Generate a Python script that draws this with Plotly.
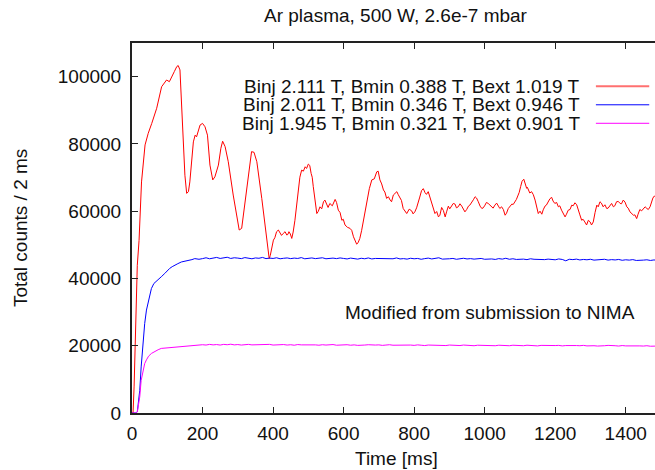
import plotly.graph_objects as go

# ---- data -------------------------------------------------------------
# Binj 2.111 T (red): (time [ms], total counts per 2 ms bin)
red_points = [
    (0, 0), (3, 0), (6, 8000), (9, 22000), (12, 33500), (15, 43900), (20, 51300), (27, 68700),
    (37, 79700), (46, 83150), (56, 86100), (70, 90600), (84, 97000), (98, 99000), (106, 98500),
    (112, 100000), (120, 101500), (127, 103000), (131, 103300), (136, 102000), (141, 91600),
    (146, 79700), (150, 70700), (155, 65300), (160, 65800), (164, 68700), (169, 74700),
    (174, 80600), (179, 82600), (183, 82100), (193, 85600), (200, 86100), (207, 85100),
    (214, 82600), (221, 73700), (229, 69300), (235, 70200), (245, 73700), (252, 78700),
    (257, 80800), (264, 79200), (273, 74700), (287, 64800), (297, 58800), (304, 54400),
    (311, 54900), (320, 61800), (330, 69800), (339, 77700), (346, 77500), (354, 74700),
    (368, 63800), (377, 56400), (382, 50900),
    (389, 45900), (392, 46800), (395, 48500), (398, 50200), (401, 51400), (405, 52100),
    (410, 53900), (415, 54400), (420, 53600), (424, 52800), (429, 53400), (434, 53900),
    (439, 52900), (442, 53100), (445, 53900), (449, 53200), (453, 51900), (457, 53800),
    (462, 57300), (467, 61900), (472, 67300), (476, 70100), (481, 72200), (486, 71900),
    (491, 73200), (495, 72700), (500, 74000), (504, 73600), (508, 71200), (511, 70100),
    (514, 67300), (519, 63800), (524, 59300), (528, 59900), (533, 61300), (538, 60700),
    (543, 62800), (547, 63300), (552, 61800), (556, 61100), (561, 62300), (568, 61600),
    (576, 63500), (580, 62600), (585, 60300), (590, 59600), (595, 57300), (599, 57600),
    (604, 55900), (611, 55200), (618, 54900), (623, 54300), (628, 52400), (632, 51400),
    (637, 50200), (641, 50600), (646, 51900), (651, 54200), (656, 57300), (661, 59800),
    (666, 63300), (673, 66700), (680, 69300), (687, 69600), (694, 71700), (698, 71900),
    (703, 69300), (708, 68100), (713, 66300), (717, 65700), (722, 63800), (727, 64300),
    (732, 63300), (736, 62800), (741, 64800), (746, 65400), (751, 65800), (755, 64900),
    (760, 64000), (764, 63200), (769, 60800), (774, 59900), (779, 59300), (786, 60600),
    (793, 60100), (797, 59200), (802, 59800), (807, 61000), (812, 63300), (816, 64200),
    (821, 66100), (826, 66700), (831, 65500), (835, 65000), (840, 65800), (845, 64100),
    (850, 61800), (854, 60600), (859, 59300), (864, 59900), (869, 58300), (873, 58800),
    (878, 61100), (883, 60200), (888, 58300), (892, 59800), (897, 61500), (901, 60700),
    (906, 61500), (911, 62300), (916, 62100), (920, 61000), (925, 61300), (930, 62200),
    (935, 61500), (939, 60600), (944, 59800), (949, 60500), (954, 61500), (958, 61800),
    (963, 62800), (968, 63400), (973, 64300), (977, 63900), (982, 62800), (987, 61500),
    (992, 60800), (996, 61000), (1001, 61800), (1005, 62600), (1010, 62300), (1015, 61800),
    (1020, 61300), (1024, 60900), (1029, 61800), (1034, 62400), (1039, 61500), (1043, 60800),
    (1048, 61300), (1053, 60500), (1058, 58800), (1062, 59400), (1067, 60800), (1072, 61300),
    (1077, 62100), (1081, 62000), (1086, 62800), (1090, 63500), (1095, 64800), (1098, 65600),
    (1102, 67300), (1106, 68900), (1111, 69500), (1115, 68000), (1119, 66800), (1121, 67100),
    (1124, 66300), (1128, 65400), (1133, 65800), (1138, 64900), (1143, 63300), (1147, 61600),
    (1152, 59300), (1157, 60000), (1162, 59100), (1166, 60400), (1171, 61500), (1175, 61800),
    (1180, 62800), (1185, 63700), (1190, 64100), (1194, 63000), (1199, 62300), (1204, 62600),
    (1209, 61300), (1213, 61600), (1218, 60300), (1223, 59300), (1228, 58300), (1232, 59100),
    (1237, 60300), (1242, 60500), (1247, 61800), (1251, 61600), (1256, 62500), (1261, 61900),
    (1266, 59800), (1270, 58900), (1275, 57300), (1279, 57600), (1284, 56800), (1289, 55900),
    (1294, 57300), (1299, 56800), (1303, 55900), (1308, 56800), (1313, 59600), (1318, 61800),
    (1322, 61300), (1327, 62800), (1331, 62400), (1336, 61300), (1341, 61900), (1346, 60800),
    (1350, 60900), (1355, 61800), (1360, 62300), (1365, 61300), (1369, 61600), (1374, 62800),
    (1379, 62900), (1384, 62300), (1388, 62200), (1393, 63300), (1398, 62700), (1403, 61300),
    (1407, 60900), (1412, 59800), (1417, 59200), (1422, 58800), (1426, 58900), (1431, 57800),
    (1435, 59100), (1440, 60500), (1445, 60100), (1450, 60800), (1455, 61300), (1460, 60800),
    (1464, 60500), (1469, 61300), (1474, 63300), (1477, 63900), (1481, 64500), (1490, 64000),
]
red_t = [p[0] for p in red_points]
red_counts = [p[1] for p in red_points]

# Blue and magenta share one time base: the rise, then 10 ms steps
rise_t = [0, 12, 15, 18, 22, 26, 31, 36, 41, 47, 55, 62, 68, 74, 83, 93, 100, 107, 114, 121,
          130, 140, 150, 159, 170, 178, 190]
steady_t = list(range(200, 1500, 10))
bm_t = rise_t + steady_t

blue_counts = [0, 0, 300, 3000, 6750, 13700, 21600, 26600, 30600, 33500, 37000, 38500, 39000,
               39500, 40500, 41500, 42300, 43000, 43500, 43950, 44400, 44900, 45100, 45400,
               45600, 45900, 45700,
               45900, 46150, 45850, 46000, 46250, 45950, 46100, 46300, 45950, 46150, 46050, 45900,
               46200, 46000, 45850, 46100, 46000, 46250, 45900, 46050, 45950, 46150, 45850, 46000,
               46100, 45900, 46050, 45950, 46200, 45850, 46000, 46100, 45900, 45950, 46150, 45850,
               46000, 46050, 45900, 46100, 45950, 45800, 46050, 45900, 45750, 46000, 45850, 46100,
               45800, 45950, 45900, 46050, 45800, 45950, 45850, 46100, 45800, 45900, 45750, 46000,
               45850, 45950, 45700, 45900, 46050, 45800, 45900, 46150, 45750, 45900, 45850, 45950,
               45700, 45850, 46000, 45800, 45900, 45750, 45850, 45950, 45700, 45850, 45800, 45650,
               45900, 45750, 46000, 45700, 45850, 45650, 45800, 45750, 45600, 45850, 45700, 45650,
               45800, 45600, 45750, 45700, 45550, 45800, 45650, 45250, 45700, 45600, 45750, 45500,
               45650, 45550, 45700, 45450, 45600, 45550, 45700, 45450, 45600, 45500, 45650, 45400,
               45550, 45450, 45600, 45350, 45500, 45450, 45550, 45350, 45500, 45400]

magenta_counts = [0, 0, 300, 2000, 4800, 9700, 12700, 14700, 15800, 16900, 17700, 18200, 18500,
                  18800, 19200, 19300, 19400, 19500, 19550, 19600, 19700, 19800, 19900, 19950,
                  20000, 20100, 20250,
                  20300, 20200, 20400, 20250, 20350, 20200, 20400, 20300, 20450, 20250, 20350,
                  20200, 20300, 20400, 20250, 20300, 20200, 20350, 20250, 20400, 20200, 20300,
                  20250, 20350, 20200, 20300, 20150, 20350, 20250, 20300, 20200, 20350, 20250,
                  20150, 20300, 20200, 20250, 20350, 20150, 20250, 20200, 20300, 20150, 20250,
                  20100, 20250, 20200, 20300, 20150, 20200, 20250, 20100, 20200, 20300, 20150,
                  20200, 20100, 20250, 20150, 20200, 20100, 20250, 20150, 20050, 20200, 20150,
                  20250, 20100, 20150, 20050, 20200, 20100, 20150, 20050, 20200, 20100, 20150,
                  20000, 20150, 20100, 20050, 20200, 20100, 20000, 20150, 20050, 20100, 20000,
                  20150, 20050, 20100, 20000, 20150, 20050, 20100, 19950, 20100, 20050, 20150,
                  20000, 20050, 20100, 19950, 20050, 20100, 19950, 20050, 20000, 20100, 19950,
                  20050, 20000, 19900, 20050, 20000, 20100, 19950, 20000, 19900, 20050, 19950,
                  20000, 19900, 20050, 19950, 19900, 20000, 19850, 19950, 19900]

series_labels = ["Binj 2.111 T, Bmin 0.388 T, Bext 1.019 T",
                 "Binj 2.011 T, Bmin 0.346 T, Bext 0.946 T",
                 "Binj 1.945 T, Bmin 0.321 T, Bext 0.901 T"]
series_colors = ["#ff0000", "#0000ff", "#ff00ff"]
key_colors = ["#ff7070", "#0000ff", "#ff00ff"]
key_widths = [2, 1, 1]

x_ticks = [0, 200, 400, 600, 800, 1000, 1200, 1400]
y_ticks = [0, 20000, 40000, 60000, 80000, 100000]

title_text = "Ar plasma, 500 W, 2.6e-7 mbar"
x_title = "Time [ms]"
y_title = "Total counts / 2 ms"
note_text = "Modified from submission to NIMA"

# ---- figure -----------------------------------------------------------
FONT = "Liberation Sans, Arial, Helvetica, sans-serif"
FS = 19
TXT = "#111111"
NBSP = "\u00a0"

fig = go.Figure()
for t, c, col in [(red_t, red_counts, series_colors[0]),
                  (bm_t, blue_counts, series_colors[1]),
                  (bm_t, magenta_counts, series_colors[2])]:
    fig.add_trace(go.Scatter(x=t, y=c, mode="lines",
                             line=dict(color=col, width=1), showlegend=False,
                             hoverinfo="skip"))

axis_common = dict(showgrid=False, zeroline=False, showline=True, linecolor="#222222",
                   linewidth=1.5, ticks="inside", ticklen=6, tickcolor="#222222",
                   tickwidth=1, tickfont=dict(family=FONT, size=FS, color=TXT))

fig.update_xaxes(range=[0, 1483], tickvals=x_ticks, ticktext=[str(v) for v in x_ticks],
                 mirror="ticks", ticklabelstandoff=2, **axis_common)
# trailing no-break space keeps the y labels clear of the axis
fig.update_yaxes(range=[0, 110000], tickvals=y_ticks,
                 ticktext=[str(v) + NBSP for v in y_ticks],
                 mirror=False, **axis_common)

annotations = [
    dict(text=title_text, xref="paper", yref="paper", x=0.505, y=1.075,
         xanchor="center", yanchor="middle", showarrow=False,
         font=dict(family=FONT, size=FS, color=TXT)),
    dict(text=x_title, xref="paper", yref="paper", x=0.505, y=-0.122,
         xanchor="center", yanchor="middle", showarrow=False,
         font=dict(family=FONT, size=FS, color=TXT)),
    dict(text=y_title, xref="paper", yref="paper", x=-0.214, y=0.5, textangle=-90,
         xanchor="center", yanchor="middle", showarrow=False,
         font=dict(family=FONT, size=FS, color=TXT)),
    dict(text=note_text, xref="x", yref="y", x=1014, y=30000,
         xanchor="center", yanchor="middle", showarrow=False,
         font=dict(family=FONT, size=FS, color=TXT)),
]

# key: right-aligned labels followed by a short line sample
shapes = []
key_rows = [0.883, 0.833, 0.783]
for lbl, col, wd, yy in zip(series_labels, key_colors, key_widths, key_rows):
    annotations.append(dict(text=lbl, xref="paper", yref="paper", x=0.86, y=yy,
                            xanchor="right", yanchor="middle", showarrow=False,
                            font=dict(family=FONT, size=FS, color=TXT)))
    shapes.append(dict(type="line", xref="paper", yref="paper", x0=0.887, x1=0.989,
                       y0=yy, y1=yy, line=dict(color=col, width=wd)))

fig.update_layout(width=655, height=470, margin=dict(l=132, r=0, t=43, b=57),
                  paper_bgcolor="white", plot_bgcolor="white",
                  annotations=annotations, shapes=shapes, showlegend=False)

fig.write_html("out.html")
